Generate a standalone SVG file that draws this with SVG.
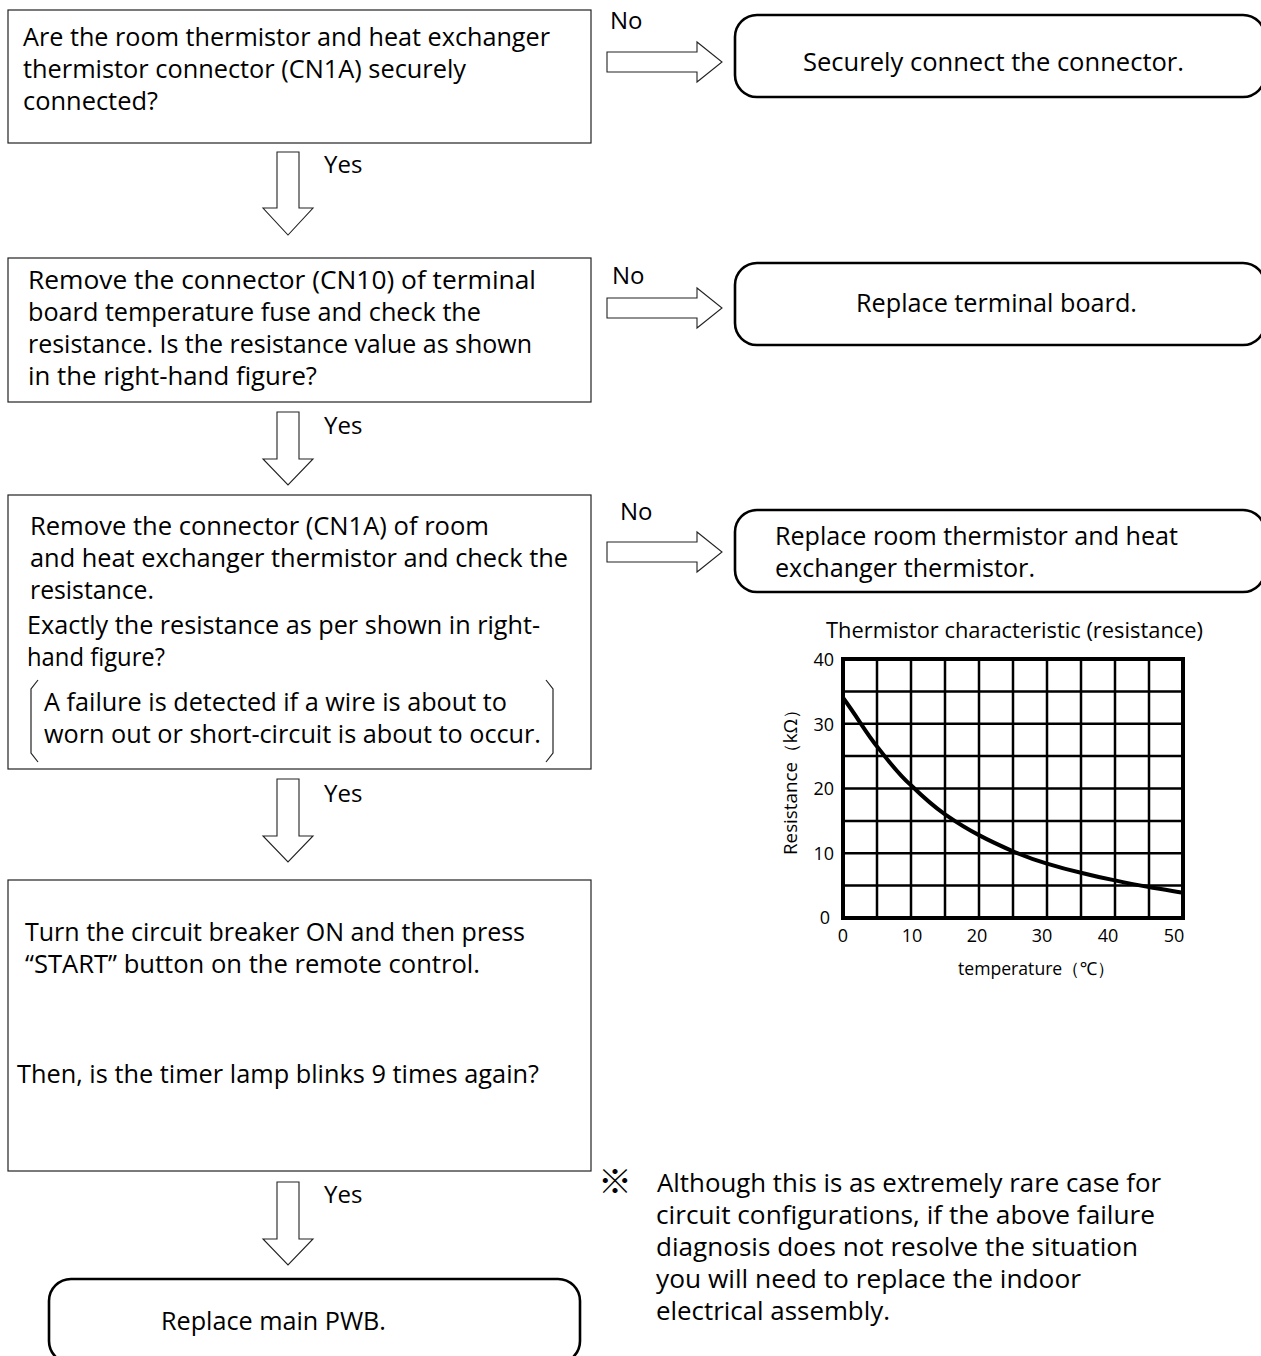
<svg xmlns="http://www.w3.org/2000/svg" width="1261" height="1356" viewBox="0 0 1261 1356">
<style>
text{font-family:"Open Sans","Noto Sans","Liberation Sans",sans-serif;fill:#000}
.t{font-size:25px}
.box{fill:#fff;stroke:#222;stroke-width:1.2}
.rbox{fill:#fff;stroke:#000;stroke-width:2.6}
.arr{fill:#fff;stroke:#222;stroke-width:1.1}
.lbl{font-size:24px}
.ax{font-size:18px}
.grid{stroke:#000;stroke-width:2.5;fill:none}
</style>
<defs>
<path id="rarr" d="M0,-10 H90 V-20 L115,0 L90,20 V10 H0 Z"/>
</defs>
<rect width="1261" height="1356" fill="#fff"/>

<g id="connectors">
  <path class="arr" d="M277,152 H299 V208 H313 L288,235 L263,208 H277 Z"/>
  <path class="arr" d="M277,412 H299 V459 H313 L288,485 L263,459 H277 Z"/>
  <path class="arr" d="M277,779 H299 V836 H313 L288,862 L263,836 H277 Z"/>
  <path class="arr" d="M277,1182 H299 V1239 H313 L288,1265 L263,1239 H277 Z"/>
  <text class="lbl" x="324" y="173">Yes</text>
  <text class="lbl" x="324" y="434">Yes</text>
  <text class="lbl" x="324" y="802">Yes</text>
  <text class="lbl" x="324" y="1203">Yes</text>
  <use href="#rarr" x="607" y="62" class="arr"/>
  <use href="#rarr" x="607" y="308" class="arr"/>
  <use href="#rarr" x="607" y="552" class="arr"/>
  <text class="lbl" x="610" y="29">No</text>
  <text class="lbl" x="612" y="284">No</text>
  <text class="lbl" x="620" y="520">No</text>
</g>

<g id="q1">
  <rect class="box" x="8" y="10" width="583" height="133"/>
  <text class="t" x="23" y="46" textLength="527" lengthAdjust="spacingAndGlyphs">Are the room thermistor and heat exchanger</text>
  <text class="t" x="23" y="78" textLength="443" lengthAdjust="spacingAndGlyphs">thermistor connector (CN1A) securely</text>
  <text class="t" x="23" y="110" textLength="135" lengthAdjust="spacingAndGlyphs">connected?</text>
</g>

<g id="a1">
  <rect class="rbox" x="735" y="15" width="530" height="82" rx="22"/>
  <text class="t" x="803" y="71" textLength="381" lengthAdjust="spacingAndGlyphs">Securely connect the connector.</text>
</g>

<g id="q2">
  <rect class="box" x="8" y="258" width="583" height="144"/>
  <text class="t" x="28" y="289" textLength="508" lengthAdjust="spacingAndGlyphs">Remove the connector (CN10) of terminal</text>
  <text class="t" x="28" y="321" textLength="453" lengthAdjust="spacingAndGlyphs">board temperature fuse and check the</text>
  <text class="t" x="28" y="353" textLength="504" lengthAdjust="spacingAndGlyphs">resistance. Is the resistance value as shown</text>
  <text class="t" x="28" y="385" textLength="289" lengthAdjust="spacingAndGlyphs">in the right-hand figure?</text>
</g>

<g id="a2">
  <rect class="rbox" x="735" y="263" width="530" height="82" rx="22"/>
  <text class="t" x="856" y="312" textLength="281" lengthAdjust="spacingAndGlyphs">Replace terminal board.</text>
</g>

<g id="q3">
  <rect class="box" x="8" y="495" width="583" height="274"/>
  <text class="t" x="30" y="535" textLength="459" lengthAdjust="spacingAndGlyphs">Remove the connector (CN1A) of room</text>
  <text class="t" x="30" y="567" textLength="538" lengthAdjust="spacingAndGlyphs">and heat exchanger thermistor and check the</text>
  <text class="t" x="30" y="599" textLength="124" lengthAdjust="spacingAndGlyphs">resistance.</text>
  <text class="t" x="27" y="634" textLength="513" lengthAdjust="spacingAndGlyphs">Exactly the resistance as per shown in right-</text>
  <text class="t" x="27" y="666" textLength="138" lengthAdjust="spacingAndGlyphs">hand figure?</text>
  <text class="t" x="44" y="711" textLength="463" lengthAdjust="spacingAndGlyphs">A failure is detected if a wire is about to</text>
  <text class="t" x="44" y="743" textLength="497" lengthAdjust="spacingAndGlyphs">worn out or short-circuit is about to occur.</text>
  <path d="M38,680 L31,689 V753 L38,762" fill="none" stroke="#222" stroke-width="1.2"/>
  <path d="M546,680 L553,689 V753 L546,762" fill="none" stroke="#222" stroke-width="1.2"/>
</g>

<g id="a3">
  <rect class="rbox" x="735" y="510" width="530" height="82" rx="22"/>
  <text class="t" x="775" y="545" textLength="403" lengthAdjust="spacingAndGlyphs">Replace room thermistor and heat</text>
  <text class="t" x="775" y="577" textLength="260" lengthAdjust="spacingAndGlyphs">exchanger thermistor.</text>
</g>

<g id="chart">
  <text x="826" y="638" font-size="21" textLength="377" lengthAdjust="spacingAndGlyphs">Thermistor characteristic (resistance)</text>
  <g class="grid">
    <path d="M877,659V918M911,659V918M945,659V918M979,659V918M1013,659V918M1047,659V918M1081,659V918M1115,659V918M1149,659V918"/>
    <path d="M843,691.4H1183M843,723.8H1183M843,756.1H1183M843,788.5H1183M843,820.9H1183M843,853.3H1183M843,885.6H1183"/>
    <rect x="843" y="659" width="340" height="259" stroke-width="4"/>
  </g>
  <path d="M843,697.8 C858,718 866,733 877,746.4 C889,762 899,775 911,785.3 C922,796 933,806 945,814.4 C956,822 967,829 979,835.1 C990,841 1001,846 1013,851.3 C1024,856 1035,860 1047,863.6 C1058,867 1069,870 1081,872.7 C1092,875.5 1103,878 1115,880.4 C1126,882.8 1137,885 1149,886.9 C1160,888.8 1171,890.8 1183,892.7" fill="none" stroke="#000" stroke-width="4"/>
  <g class="ax" text-anchor="end">
    <text x="834" y="666">40</text>
    <text x="834" y="731">30</text>
    <text x="834" y="795">20</text>
    <text x="834" y="860">10</text>
    <text x="830" y="924">0</text>
  </g>
  <g class="ax" text-anchor="middle">
    <text x="843" y="942">0</text>
    <text x="912" y="942">10</text>
    <text x="977" y="942">20</text>
    <text x="1042" y="942">30</text>
    <text x="1108" y="942">40</text>
    <text x="1174" y="942">50</text>
  </g>
  <text class="ax" x="958" y="975" textLength="157" lengthAdjust="spacingAndGlyphs">temperature（℃）</text>
  <text class="ax" transform="translate(797,855) rotate(-90)" textLength="155" lengthAdjust="spacingAndGlyphs">Resistance（kΩ）</text>
</g>

<g id="q4">
  <rect class="box" x="8" y="880" width="583" height="291"/>
  <text class="t" x="25" y="941" textLength="500" lengthAdjust="spacingAndGlyphs">Turn the circuit breaker ON and then press</text>
  <text class="t" x="25" y="973" textLength="455" lengthAdjust="spacingAndGlyphs">“START” button on the remote control.</text>
  <text class="t" x="17" y="1083" textLength="522" lengthAdjust="spacingAndGlyphs">Then, is the timer lamp blinks 9 times again?</text>
</g>

<g id="a4">
  <rect class="rbox" x="49" y="1279" width="531" height="84" rx="22"/>
  <text class="t" x="161" y="1330" textLength="225" lengthAdjust="spacingAndGlyphs">Replace main PWB.</text>
</g>

<g id="note">
  <text x="598" y="1194" font-size="34" style="font-family:'Noto Sans CJK JP','Noto Sans',sans-serif">※</text>
  <text class="t" x="657" y="1192" textLength="504" lengthAdjust="spacingAndGlyphs">Although this is as extremely rare case for</text>
  <text class="t" x="656" y="1224" textLength="499" lengthAdjust="spacingAndGlyphs">circuit configurations, if the above failure</text>
  <text class="t" x="656" y="1256" textLength="482" lengthAdjust="spacingAndGlyphs">diagnosis does not resolve the situation</text>
  <text class="t" x="656" y="1288" textLength="425" lengthAdjust="spacingAndGlyphs">you will need to replace the indoor</text>
  <text class="t" x="656" y="1320" textLength="234" lengthAdjust="spacingAndGlyphs">electrical assembly.</text>
</g>
</svg>
